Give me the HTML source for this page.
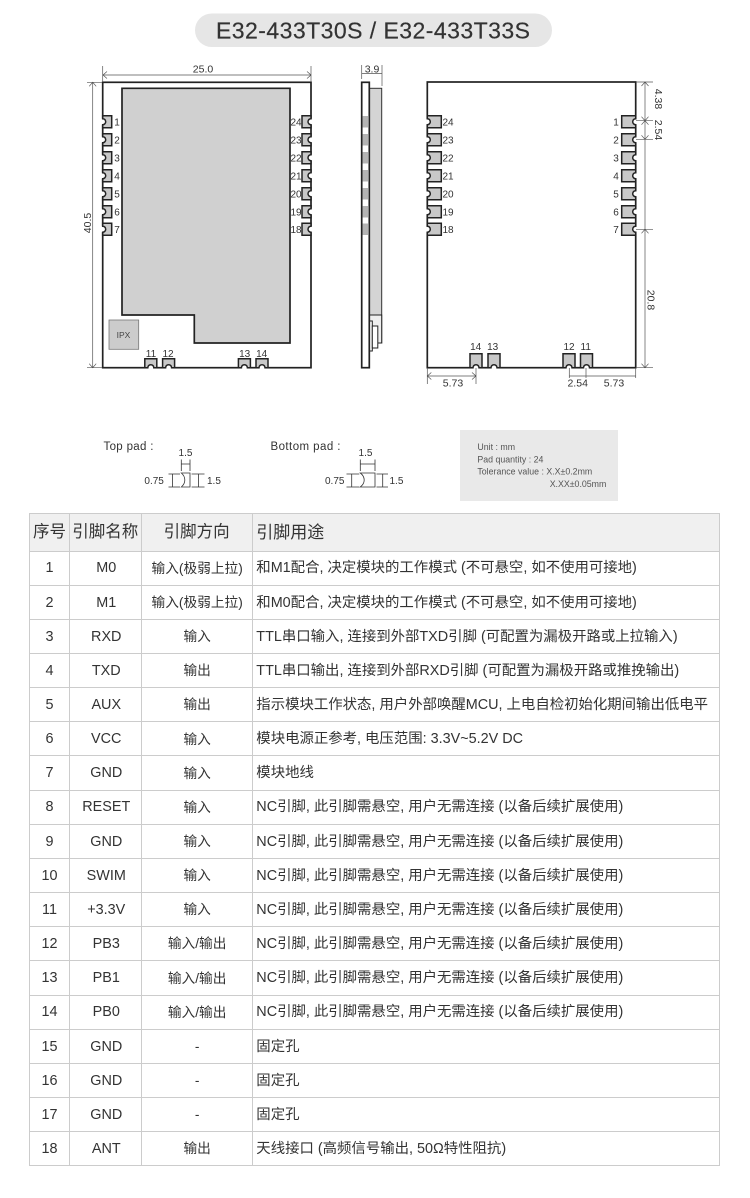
<!DOCTYPE html>
<html lang="zh"><head><meta charset="utf-8"><title>E32-433T30S / E32-433T33S</title>
<style>
html,body{margin:0;padding:0;background:#fff}
body{width:750px;height:1198px;position:relative;overflow:hidden;font-family:"Liberation Sans","Noto Sans CJK SC",sans-serif;color:#333}
svg{position:absolute;left:0;top:0;filter:blur(.3px)}
svg text{font-family:"Liberation Sans","Noto Sans CJK SC",sans-serif}
table{position:absolute;left:29px;top:513px;width:691px;border-collapse:collapse;table-layout:fixed;font-size:14.4px;filter:blur(.3px)}
td,th{border:1.5px solid #ccc;padding:0;text-align:center;font-weight:400;white-space:nowrap;overflow:hidden;line-height:1}
td{height:34.17px;box-sizing:border-box;padding-top:1px}
td:nth-child(2){padding-left:2px}
td:nth-child(3){padding-left:1px}
th{height:36.5px;background:#f0f0f0;font-size:16.5px}
td.d,th.d{text-align:left;padding-left:3.5px}
th.d{font-size:17px}
.f{font-size:13.7px}
</style></head><body>
<svg width="750" height="510" viewBox="0 0 750 510">
<defs>
<g id="p9"><rect x="-1.2" y="-3" width="2.4" height="6" fill="#fff"/><path d="M0 -6H9V6H0V3A3 3 0 0 0 0 -3Z" fill="#c8c8c8" stroke="#222" stroke-width="1.5"/></g>
<g id="p14"><rect x="-1.2" y="-3" width="2.4" height="6" fill="#fff"/><path d="M0 -6H14V6H0V3A3 3 0 0 0 0 -3Z" fill="#c8c8c8" stroke="#222" stroke-width="1.5"/></g>
</defs>
<rect x="195" y="13.5" width="357" height="33.5" rx="16.7" fill="#e6e6e6"/>
<text x="216" y="38.5" font-size="23" fill="#333" stroke="#333" stroke-width=".2" textLength="314" lengthAdjust="spacing">E32-433T30S / E32-433T33S</text>

<!-- top view -->
<rect x="102.7" y="82.3" width="208.3" height="285.4" fill="#fff" stroke="#222" stroke-width="1.7"/>
<path d="M122 88.3H290V343H194.3V315H122Z" fill="#d0d0d0" stroke="#222" stroke-width="1.7"/>
<rect x="109" y="320" width="29.7" height="29.3" fill="#ccc" stroke="#777" stroke-width=".8"/>
<text x="123.5" y="338" font-size="8.5" text-anchor="middle" fill="#444">IPX</text>
<g>
<use href="#p9" transform="translate(102.7 121.7)"/><use href="#p9" transform="translate(102.7 139.7)"/><use href="#p9" transform="translate(102.7 157.7)"/><use href="#p9" transform="translate(102.7 175.7)"/><use href="#p9" transform="translate(102.7 193.7)"/><use href="#p9" transform="translate(102.7 211.7)"/><use href="#p9" transform="translate(102.7 229.2)"/>
<use href="#p9" transform="translate(311 121.7) scale(-1 1)"/><use href="#p9" transform="translate(311 139.7) scale(-1 1)"/><use href="#p9" transform="translate(311 157.7) scale(-1 1)"/><use href="#p9" transform="translate(311 175.7) scale(-1 1)"/><use href="#p9" transform="translate(311 193.7) scale(-1 1)"/><use href="#p9" transform="translate(311 211.7) scale(-1 1)"/><use href="#p9" transform="translate(311 229.2) scale(-1 1)"/>
<use href="#p9" transform="translate(150.8 367.7) rotate(-90)"/><use href="#p9" transform="translate(168.6 367.7) rotate(-90)"/><use href="#p9" transform="translate(244.4 367.7) rotate(-90)"/><use href="#p9" transform="translate(262 367.7) rotate(-90)"/>
</g>
<g font-size="10" fill="#333" text-anchor="middle">
<text x="117" y="125.5">1</text><text x="117" y="143.5">2</text><text x="117" y="161.5">3</text><text x="117" y="179.5">4</text><text x="117" y="197.5">5</text><text x="117" y="215.5">6</text><text x="117" y="233">7</text>
<text x="296" y="125.5">24</text><text x="296" y="143.5">23</text><text x="296" y="161.5">22</text><text x="296" y="179.5">21</text><text x="296" y="197.5">20</text><text x="296" y="215.5">19</text><text x="296" y="233">18</text>
<text x="151" y="357">11</text><text x="168" y="357">12</text><text x="244.7" y="357">13</text><text x="261.7" y="357">14</text>
</g>
<g stroke="#555" stroke-width=".7" fill="none">
<path d="M102.7 66V82M311 66V82M103 75H311M107 71.5L103 75L107 78.500M307 71.5L311 75L307 78.5"/>
<path d="M87 82.300H102M87 367.700H102M92.700 82.300V367.700M89.200 86.300L92.700 82.300L96.200 86.300M89.200 363.700L92.700 367.700L96.200 363.700"/>
<path d="M361.700 65V79M382 65V86M361.700 73.500H382"/>
</g>
<g font-size="10.5" fill="#333">
<text x="203" y="72.500" text-anchor="middle">25.0</text>
<text transform="translate(91 223) rotate(-90)" text-anchor="middle">40.5</text>
<text x="372" y="72.500" text-anchor="middle">3.9</text>
</g>

<!-- side view -->
<rect x="369.300" y="88.300" width="12.400" height="254.700" fill="#d4d4d4" stroke="#333" stroke-width="1"/>
<rect x="369.300" y="315" width="12.400" height="28" fill="#eee" stroke="#222" stroke-width="1"/>
<rect x="369.300" y="321" width="3" height="30" fill="#fff" stroke="#222" stroke-width="1"/>
<rect x="372.300" y="326" width="5.500" height="22" fill="#fff" stroke="#222" stroke-width="1"/>
<rect x="361.700" y="82.300" width="7.600" height="285.400" fill="#fff" stroke="#222" stroke-width="1.700"/>
<g fill="#b4b4b4">
<rect x="362.500" y="116" width="6.200" height="11.500"/><rect x="362.500" y="134" width="6.200" height="11.500"/><rect x="362.500" y="152" width="6.200" height="11.500"/><rect x="362.500" y="170" width="6.200" height="11.500"/><rect x="362.500" y="188" width="6.200" height="11.500"/><rect x="362.500" y="206" width="6.200" height="11.500"/><rect x="362.500" y="223.500" width="6.200" height="11.500"/>
</g>

<!-- bottom view -->
<rect x="427.300" y="82" width="208.400" height="285.700" fill="#fff" stroke="#222" stroke-width="1.700"/>
<g>
<use href="#p14" transform="translate(427.300 121.700)"/><use href="#p14" transform="translate(427.300 139.700)"/><use href="#p14" transform="translate(427.300 157.700)"/><use href="#p14" transform="translate(427.300 175.700)"/><use href="#p14" transform="translate(427.300 193.700)"/><use href="#p14" transform="translate(427.300 211.700)"/><use href="#p14" transform="translate(427.300 229.200)"/>
<use href="#p14" transform="translate(635.700 121.700) scale(-1 1)"/><use href="#p14" transform="translate(635.700 139.700) scale(-1 1)"/><use href="#p14" transform="translate(635.700 157.700) scale(-1 1)"/><use href="#p14" transform="translate(635.700 175.700) scale(-1 1)"/><use href="#p14" transform="translate(635.700 193.700) scale(-1 1)"/><use href="#p14" transform="translate(635.700 211.700) scale(-1 1)"/><use href="#p14" transform="translate(635.700 229.200) scale(-1 1)"/>
<use href="#p14" transform="translate(476 367.700) rotate(-90)"/><use href="#p14" transform="translate(494 367.700) rotate(-90)"/><use href="#p14" transform="translate(569 367.700) rotate(-90)"/><use href="#p14" transform="translate(586.500 367.700) rotate(-90)"/>
</g>
<g font-size="10" fill="#333" text-anchor="middle">
<text x="448" y="125.500">24</text><text x="448" y="143.500">23</text><text x="448" y="161.500">22</text><text x="448" y="179.500">21</text><text x="448" y="197.500">20</text><text x="448" y="215.500">19</text><text x="448" y="233">18</text>
<text x="616" y="125.500">1</text><text x="616" y="143.500">2</text><text x="616" y="161.500">3</text><text x="616" y="179.500">4</text><text x="616" y="197.500">5</text><text x="616" y="215.500">6</text><text x="616" y="233">7</text>
<text x="475.700" y="350">14</text><text x="492.700" y="350">13</text><text x="569" y="350">12</text><text x="585.700" y="350">11</text>
</g>
<g stroke="#555" stroke-width=".7" fill="none">
<path d="M636 82H653M636 120.700H653M636 139.300H653M636 229.300H653M636 367.700H653"/>
<path d="M645 82V367.700M641.500 86L645 82L648.500 86M641.500 116.700L645 120.700L648.500 116.700M641.500 124.700L645 120.700L648.500 124.700M641.500 135.300L645 139.300L648.500 135.300M641.500 233.300L645 229.300L648.500 233.300M641.500 363.700L645 367.700L648.500 363.700"/>
<path d="M427.300 368V384M476 368V384M427.300 376H476M431.300 372.500L427.300 376L431.300 379.500M472 372.500L476 376L472 379.500"/>
<path d="M569.300 368V378M586 368V378M569.300 376H635.700M635.700 368V378"/>
</g>
<g font-size="10.500" fill="#333">
<text transform="translate(655 99) rotate(90)" text-anchor="middle">4.38</text>
<text transform="translate(655 130) rotate(90)" text-anchor="middle">2.54</text>
<text transform="translate(647.500 300) rotate(90)" text-anchor="middle">20.8</text>
<text x="453" y="386.500" text-anchor="middle">5.73</text>
<text x="577.700" y="386.500" text-anchor="middle">2.54</text>
<text x="614" y="386.500" text-anchor="middle">5.73</text>
</g>

<!-- pad details -->
<g fill="#333">
<text x="103.500" y="450" font-size="11.500" textLength="50" lengthAdjust="spacing">Top pad :</text>
<text x="270.500" y="450" font-size="11.500" textLength="70" lengthAdjust="spacing">Bottom pad :</text>
<g font-size="10" text-anchor="middle">
<text x="185.500" y="456">1.5</text><text x="365.500" y="456">1.5</text>
</g>
<g font-size="10">
<text x="144.400" y="484">0.75</text><text x="207" y="484">1.5</text>
<text x="325" y="484">0.75</text><text x="389.500" y="484">1.5</text>
</g>
</g>
<g stroke="#333" stroke-width=".8" fill="none">
<path d="M181.300 459.500V471M190 459.500V471M181.300 464H190"/>
<path d="M168.500 474H180M168.500 487H180M172.600 474V487"/>
<path d="M191.600 474H204.500M191.600 487H204.500M198.500 474V487"/>
<path d="M181.300 473H190V487H181.300C186 483 186 477 181.300 473Z"/>
<path d="M360.300 459.500V471M375 459.500V471M360.300 464H375"/>
<path d="M346.500 474H359.300M346.500 487H359.300M351.700 474V487"/>
<path d="M376.500 474H388M376.500 487H388M382.700 474V487"/>
<path d="M360.300 473H375V487H360.300C365.500 483 365.500 477 360.300 473Z"/>
</g>
<rect x="460" y="430" width="158" height="71" fill="#e9e9e9"/>
<g font-size="8.800" fill="#555">
<text x="477.400" y="450">Unit : mm</text>
<text x="477.400" y="462.500">Pad quantity : 24</text>
<text x="477.400" y="474.500">Tolerance value : X.X±0.2mm</text>
<text x="549.700" y="487">X.XX±0.05mm</text>
</g>
</svg>

<table>
<colgroup><col style="width:40px"><col style="width:71.500px"><col style="width:111.300px"><col></colgroup>
<tr><th>序号</th><th>引脚名称</th><th>引脚方向</th><th class="d">引脚用途</th></tr>
<tr><td>1</td><td>M0</td><td class="f">输入(极弱上拉)</td><td class="d">和M1配合, 决定模块的工作模式 (不可悬空, 如不使用可接地)</td></tr>
<tr><td>2</td><td>M1</td><td class="f">输入(极弱上拉)</td><td class="d">和M0配合, 决定模块的工作模式 (不可悬空, 如不使用可接地)</td></tr>
<tr><td>3</td><td>RXD</td><td class="f">输入</td><td class="d">TTL串口输入, 连接到外部TXD引脚 (可配置为漏极开路或上拉输入)</td></tr>
<tr><td>4</td><td>TXD</td><td class="f">输出</td><td class="d">TTL串口输出, 连接到外部RXD引脚 (可配置为漏极开路或推挽输出)</td></tr>
<tr><td>5</td><td>AUX</td><td class="f">输出</td><td class="d">指示模块工作状态, 用户外部唤醒MCU, 上电自检初始化期间输出低电平</td></tr>
<tr><td>6</td><td>VCC</td><td class="f">输入</td><td class="d">模块电源正参考, 电压范围: 3.3V~5.2V DC</td></tr>
<tr><td>7</td><td>GND</td><td class="f">输入</td><td class="d">模块地线</td></tr>
<tr><td>8</td><td>RESET</td><td class="f">输入</td><td class="d">NC引脚, 此引脚需悬空, 用户无需连接 (以备后续扩展使用)</td></tr>
<tr><td>9</td><td>GND</td><td class="f">输入</td><td class="d">NC引脚, 此引脚需悬空, 用户无需连接 (以备后续扩展使用)</td></tr>
<tr><td>10</td><td>SWIM</td><td class="f">输入</td><td class="d">NC引脚, 此引脚需悬空, 用户无需连接 (以备后续扩展使用)</td></tr>
<tr><td>11</td><td>+3.3V</td><td class="f">输入</td><td class="d">NC引脚, 此引脚需悬空, 用户无需连接 (以备后续扩展使用)</td></tr>
<tr><td>12</td><td>PB3</td><td class="f">输入/输出</td><td class="d">NC引脚, 此引脚需悬空, 用户无需连接 (以备后续扩展使用)</td></tr>
<tr><td>13</td><td>PB1</td><td class="f">输入/输出</td><td class="d">NC引脚, 此引脚需悬空, 用户无需连接 (以备后续扩展使用)</td></tr>
<tr><td>14</td><td>PB0</td><td class="f">输入/输出</td><td class="d">NC引脚, 此引脚需悬空, 用户无需连接 (以备后续扩展使用)</td></tr>
<tr><td>15</td><td>GND</td><td class="f">-</td><td class="d">固定孔</td></tr>
<tr><td>16</td><td>GND</td><td class="f">-</td><td class="d">固定孔</td></tr>
<tr><td>17</td><td>GND</td><td class="f">-</td><td class="d">固定孔</td></tr>
<tr><td>18</td><td>ANT</td><td class="f">输出</td><td class="d">天线接口 (高频信号输出, 50Ω特性阻抗)</td></tr>
</table>
</body></html>
